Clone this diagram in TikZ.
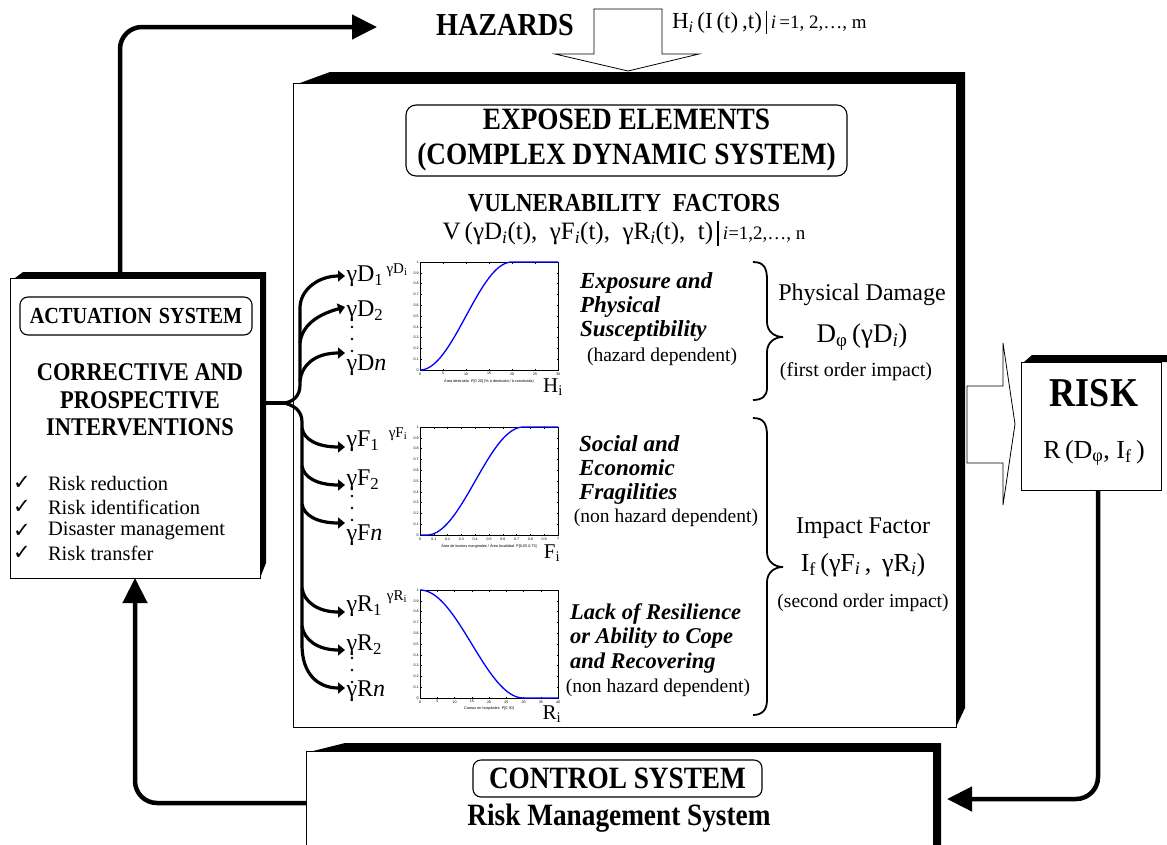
\documentclass[tikz,border=0pt]{standalone}
\usepackage{fontspec}
\setmainfont{Liberation Serif}
\newfontfamily\cbf[FakeStretch=0.88]{Liberation Serif}
\newfontfamily\djv{DejaVu Sans}
\newfontfamily\lsans{Liberation Sans}
\usetikzlibrary{arrows.meta,calc}
\newcommand\fs[2]{\fontsize{#1}{#2}\selectfont}
\newcommand\sbi{\textsubscript{\textit{i}}}
\newcommand\chartaxes[4]{%
  \begin{scope}[shift={(#1,#2)}]
    \draw[frame] (0,0) rectangle (138,108);
    \foreach \lab [count=\c from 0] in {0,0.1,0.2,0.3,0.4,0.5,0.6,0.7,0.8,0.9,1} {
      \draw[tck] (0,{108-10.8*\c}) -- ++(1.5,0);
      \draw[tck] (138,{108-10.8*\c}) -- ++(-1.5,0);
      \node[tl, anchor=east] (yt\c) at (-1.5,{108-10.8*\c}) {\lab};
    }
    \foreach \lab [count=\c from 0] in {#3} {
      \draw[tck] ({138*\c/#4},108) -- ++(0,-1.5);
      \draw[tck] ({138*\c/#4},0) -- ++(0,1.5);
      \node[tl, anchor=north] (xt\c) at ({138*\c/#4},110.5) {\lab};
    }
  \end{scope}}
\begin{document}
\begin{tikzpicture}[x=1pt,y=-1pt,
  every node/.style={inner sep=0pt, outer sep=0pt},
  conn/.style={line width=4.5pt, -{Triangle[length=25pt,width=24pt]}, rounded corners=22pt},
  br/.style={line width=3.2pt, -{Triangle[length=7pt,width=11pt]}},
  plainbox/.style={draw, line width=0.9pt, fill=white, anchor=north west},
  rbox/.style={draw, line width=1.1pt, rounded corners=10pt, fill=white},
  curve/.style={blue, line width=1.3pt},
  frame/.style={line width=0.6pt},
  tck/.style={line width=0.3pt},
  tl/.style={font=\lsans\fs{3.6}{4}},
  lab/.style={font=\fs{24}{26}, anchor=west, inner xsep=1.5pt},
  bib/.style={font=\fs{23}{24}\bfseries\itshape, align=left, anchor=west},
  paren/.style={font=\fs{19.5}{22}},
  cb/.style={font=\cbf\bfseries},
  hollow/.style={draw, line width=0.8pt, fill=white},
  dotm/.style={fill=black, circle, minimum size=2.6pt}
]
\useasboundingbox (0,0) rectangle (1167,844);
\clip (0,0) rectangle (1167,844);

% ---------- main box (exposed elements)
\fill (300,83) -- (330,72) -- (965,72) -- (965,708) -- (956,727) -- (956,83) -- cycle;
\node[plainbox, minimum width=663pt, minimum height=644pt] (expo) at (293,83) {};

% hazards
\node[cb, font=\cbf\bfseries\fs{32}{34}] (haz) at (505,25) {HAZARDS};
\draw[hollow] (594,9) -- (662,9) -- (662,54) -- (699,54) -- (628,71) -- (555,54) -- (594,54) -- cycle;
\node[anchor=west, font=\fs{23}{25}] (hform) at (672,22)
  {H\sbi\,(I\,(t)\,,t)\,\rule[-5pt]{1.4pt}{23pt}\,{\fs{19}{20}\textit{i}\,=1, 2,…, m}};

% exposed title
\node[rbox, minimum width=441pt, minimum height=71pt, align=center,
      font=\cbf\bfseries\fs{31}{35}] (etitle) at (626.5,140.5)
  {EXPOSED ELEMENTS\\(COMPLEX DYNAMIC SYSTEM)};
\node[font=\cbf\bfseries\fs{26}{28}] (vuln) at (624,203) {VULNERABILITY\hspace{6pt} FACTORS};
\node[font=\fs{25}{27}] (vform) at (624,233)
  {V\,(γD\sbi(t),\ \ γF\sbi(t),\ \ γR\sbi(t),\ \ t)\,\rule[-6pt]{1.4pt}{25pt}\,{\fs{19}{20}\textit{i}=1,2,…, n}};

% ---------- charts
\chartaxes{420}{262}{0,5,10,15,20,25,30}{6}
\chartaxes{420}{427}{0,0.1,0.2,0.3,0.4,0.5,0.6,0.7,0.8,0.9,1}{10}
\chartaxes{420}{590}{0,5,10,15,20,25,30,35,40}{8}
\begin{scope}[shift={(420,262)}]
  \draw[curve] plot[domain=0:20, samples=60] ({\x/30*138},{108-108*(1-cos(9*\x))/2}) -- (138,0);
  \node[tl, font=\lsans\fs{3.8}{4}] (xl1) at (69,119) {Área destruida\ \ P[0 20] (\% á destruida / á construida)};
\end{scope}
\begin{scope}[shift={(420,427)}]
  \draw[curve] (0,108) -- (6.9,108) plot[domain=0.05:0.75, samples=60] ({\x*138},{108-108*(1-cos(180*(\x-0.05)/0.7))/2}) -- (138,0);
  \node[tl, font=\lsans\fs{3.8}{4}] (xl2) at (69,119) {Área de barrios marginales / Área localidad\ \ P[0.05 0.75]};
\end{scope}
\begin{scope}[shift={(420,590)}]
  \draw[curve] plot[domain=0:30, samples=60] ({\x/40*138},{108-108*(1+cos(6*\x))/2}) -- (138,108);
  \node[tl, font=\lsans\fs{3.8}{4}] (xl3) at (69,119) {Camas en hospitales\ \ P[0 30]};
\end{scope}
\node[font=\fs{15}{16}] (yl1) at (397,270) {γD\textsubscript{i}};
\node[font=\fs{15}{16}] (yl2) at (398,434) {γF\textsubscript{i}};
\node[font=\fs{15}{16}] (yl3) at (397,597) {γR\textsubscript{i}};
\node[font=\fs{21}{22}] (xh) at (553,387) {H\textsubscript{i}};
\node[font=\fs{21}{22}] (xf) at (552,553) {F\textsubscript{i}};
\node[font=\fs{21}{22}] (xr) at (552,714) {R\textsubscript{i}};

% ---------- labels of the tree
\node[lab] (d1) at (345,276) {γD\textsubscript{1}};
\node[lab] (d2) at (345,311) {γD\textsubscript{2}};
\node[lab] (dn) at (345,365) {γD\textit{n}};
\node[lab] (f1) at (345,441) {γF\textsubscript{1}};
\node[lab] (f2) at (345,480) {γF\textsubscript{2}};
\node[lab] (fn) at (345,535) {γF\textit{n}};
\node[lab] (r1) at (345,606) {γR\textsubscript{1}};
\node[lab] (r2) at (345,645) {γR\textsubscript{2}};
\node[lab] (rn) at (345,691) {γR\textit{n}};
\foreach \yy [count=\c] in {327,339,351} \node[dotm] (dd\c) at (352,\yy) {};
\foreach \yy [count=\c] in {496,508,520} \node[dotm] (fd\c) at (352,\yy) {};
\foreach \yy [count=\c] in {658,670,682} \node[dotm] (rd\c) at (352,\yy) {};

% ---------- descriptive texts
\node[bib] (t1) at (580,307) {Exposure and\\Physical\\Susceptibility};
\node[paren] (t1p) at (662,357) {(hazard dependent)};
\node[bib] (t2) at (579,470) {Social and\\Economic\\Fragilities};
\node[paren] (t2p) at (666,518) {(non hazard dependent)};
\node[bib, font=\fs{22.5}{24.5}\bfseries\itshape] (t3) at (570,638) {Lack of Resilience\\or Ability to Cope\\and Recovering};
\node[paren] (t3p) at (658,688) {(non hazard dependent)};

% braces
\draw[line width=1.8pt] (753,262) .. controls (764,262) and (767,268) .. (767,280) -- (767,322)
  .. controls (767,331) and (774,337) .. (783,337) .. controls (774,337) and (767,343) .. (767,352)
  -- (767,388) .. controls (767,396) and (762,400) .. (753,400);
\draw[line width=1.8pt] (753,418) .. controls (764,418) and (767,424) .. (767,436) -- (767,552)
  .. controls (767,561) and (774,567) .. (783,567) .. controls (774,567) and (767,573) .. (767,582)
  -- (767,700) .. controls (767,710) and (762,715) .. (753,715);

\node[font=\fs{24}{26}] (pd) at (862,295) {Physical Damage};
\node[font=\fs{27}{29}] (pdf) at (862,337) {D\textsubscript{φ}\,(γD\sbi)};
\node[font=\fs{20}{22}] (pdo) at (856,372) {(first order impact)};
\node[font=\fs{24}{26}] (imf) at (863,528) {Impact Factor};
\node[font=\fs{26}{28}] (imff) at (863,565) {I\textsubscript{f}\,(γF\sbi\,,\, γR\sbi)};
\node[font=\fs{19.5}{22}] (imo) at (863,603) {(second order impact)};

% ---------- actuation system
\fill (15,278) -- (23,272) -- (266,272) -- (266,563) -- (260,578) -- (260,278) -- cycle;
\node[plainbox, minimum width=250pt, minimum height=300pt] (act) at (10,278) {};
\node[rbox, rounded corners=8pt, minimum width=232pt, minimum height=38pt,
      font=\cbf\bfseries\fs{23}{25}] (atitle) at (136,316) {ACTUATION\hspace{7pt}SYSTEM};
\node[align=center, font=\cbf\bfseries\fs{25.5}{27.5}] (corr) at (140,400)
  {CORRECTIVE AND\\PROSPECTIVE\\INTERVENTIONS};
\foreach \yy/\tx [count=\c] in {483/Risk reduction,507/Risk identification,531/Disaster management,553/Risk transfer}{
  \node[font=\djv\fs{21}{22}] (ck\c) at (22,\yy) {✓};
  \node[anchor=west, font=\fs{20.5}{22}] (it\c) at (48,\yy) {\tx};
}

% ---------- risk
\fill (1024,362) -- (1032,355) -- (1167,355) -- (1167,362) -- cycle;
\node[plainbox, minimum width=140pt, minimum height=128pt] (risk) at (1021,362) {};
\node[font=\cbf\bfseries\fs{41}{43}] (risktxt) at (1094,393) {RISK};
\node[font=\fs{26}{28}] (riskf) at (1094,453) {R\,(D\textsubscript{φ}, I\textsubscript{f}\,)};
\draw[hollow] (967,463) -- (967,386) -- (1003,386) -- (1003,343) -- (1015,424) -- (1003,505) -- (1003,463) -- cycle;
\fill (956,383) rectangle (965,470);

% ---------- control system
\fill (313,751) -- (345,743) -- (941,743) -- (941,860) -- (933,860) -- (933,751) -- cycle;
\node[plainbox, minimum width=627pt, minimum height=120pt] (ctrl) at (306,751) {};
\node[rbox, rounded corners=8pt, minimum width=289pt, minimum height=37pt,
      font=\cbf\bfseries\fs{31}{33}] (ctitle) at (617.5,778.5) {CONTROL SYSTEM};
\node[font=\cbf\bfseries\fs{31}{33}] (rms) at (619,818) {Risk Management System};

% ---------- connectors
\coordinate (topend) at (377,27);
\draw[conn] ([xshift=110pt]act.north west) |- (topend);
\draw[conn] ([yshift=8pt]ctrl.west) -| ([xshift=125pt]act.south west);
\draw[conn] ([xshift=7pt]risk.south) |- ([xshift=14pt,yshift=12pt]ctrl.east);

% tree
\coordinate (fork) at (284,403);
\draw[line width=3.2pt] (act.east |- fork) -- (fork);
\draw[br] (fork) .. controls (293,402) and (300,396) .. (300,385) -- (300,308)
  .. controls (300,290) and (318,276) .. (d1.west);
\draw[br] (300,343) .. controls (302,326) and (316,315) .. ([yshift=4pt]d2.west);
\draw[br] (300,381) .. controls (302,364) and (316,353) .. ([yshift=12pt]dn.west);
\draw[br] (fork) .. controls (293,405) and (302,410) .. (302,422) -- (302,645)
  .. controls (302,674) and (318,688) .. ([yshift=3pt]rn.west);
\draw[br] (302,428) .. controls (304,440) and (318,447) .. ([yshift=-6pt]f1.west);
\draw[br] (302,466) .. controls (304,478) and (318,485) .. ([yshift=-5pt]f2.west);
\draw[br] (302,504) .. controls (304,516) and (318,523) .. ([yshift=12pt]fn.west);
\draw[br] (302,588) .. controls (304,602) and (318,612) .. ([yshift=-6pt]r1.west);
\draw[br] (302,626) .. controls (304,640) and (318,650) .. ([yshift=-5pt]r2.west);
\end{tikzpicture}
\end{document}
